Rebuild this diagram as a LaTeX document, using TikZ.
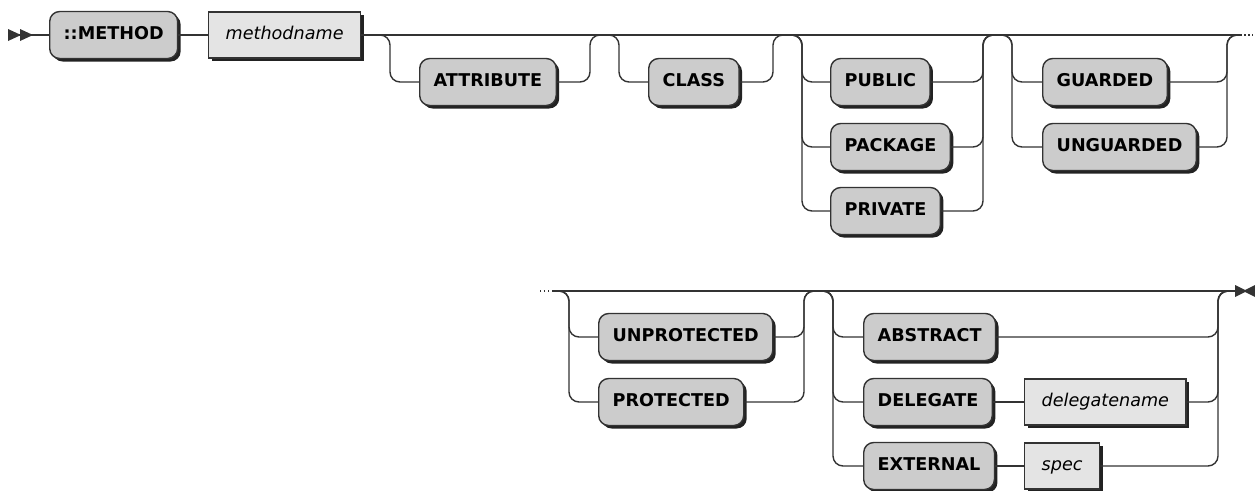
\documentclass[tikz,border=0pt]{standalone}
\usepackage{fontspec}
\setmainfont{DejaVu Sans}
\usetikzlibrary{shadows, positioning}
\definecolor{filocol}{HTML}{333333}
\definecolor{parolacol}{HTML}{CCCCCC}
\definecolor{nomecol}{HTML}{E4E4E4}
\definecolor{ombracol}{HTML}{222222}

\begin{document}
\begin{tikzpicture}[
  x=1pt, y=-1pt,
  filo/.style={draw=filocol, line width=1.4pt},
  ramo/.style={filo, rounded corners=10pt},
  punta/.style={fill=filocol},
  parola/.style={draw=filocol, line width=1.4pt, fill=parolacol, rounded corners=10pt,
    minimum height=47pt, inner xsep=14pt, text height=13pt, text depth=3.5pt,
    font=\fontsize{17.6}{20}\selectfont\bfseries, anchor=west,
    drop shadow={shadow xshift=3pt, shadow yshift=-3pt, opacity=1, fill=ombracol}},
  nome/.style={draw=filocol, line width=1.4pt, fill=nomecol,
    minimum height=46pt, inner xsep=17pt, text height=13pt, text depth=3.5pt,
    font=\fontsize{17.6}{20}\selectfont\itshape, anchor=west,
    drop shadow={shadow xshift=3pt, shadow yshift=-3pt, opacity=1, fill=ombracol}}
]
\useasboundingbox (0,0) rectangle (1255,490);

% Riga superiore
\coordinate (inizio) at (8,35);
\coordinate (fine1) at (1240,35);

\node[parola] (method) at (49,35) {::METHOD};
\node[nome] (mname) at (208,35) {methodname};

\node[parola] (attr) at (419,82) {ATTRIBUTE};
\node[parola] (class) at (648,82) {CLASS};

\node[parola] (public) at (830,82) {PUBLIC};
\node[parola] (package) at (830,147) {PACKAGE};
\node[parola] (private) at (830,211) {PRIVATE};

\node[parola] (guarded) at (1042,82) {GUARDED};
\node[parola] (unguarded) at (1042,147) {UNGUARDED};

% Inizio
\fill[punta] (inizio) ++(0,-6) -- ++(13,6) -- ++(-13,6) -- cycle;
\fill[punta] (inizio) ++(12,-6) -- ++(13,6) -- ++(-13,6) -- cycle;
\draw[filo] (inizio) -- (method.west);
\draw[filo] (method.east) -- (mname.west);
\draw[filo] (mname.east) -- (fine1);
\draw[filo, dash pattern=on 1.5pt off 2.5pt] (fine1) -- ++(13,0);

% ATTRIBUTE
\draw[ramo] (370,35) -| (390,82) -- (attr.west);
\draw[ramo] (attr.east) -| (590,35) -- (610,35);

% CLASS
\draw[ramo] (599,35) -| (619,82) -- (class.west);
\draw[ramo] (class.east) -| (773,35) -- (793,35);

% PUBLIC / PACKAGE / PRIVATE
\draw[ramo] (782,35) -| (802,82) -- (public.west);
\draw[ramo] (782,35) -| (802,147) -- (package.west);
\draw[ramo] (782,35) -| (802,211) -- (private.west);
\draw[ramo] (public.east) -| (983,35) -- (1003,35);
\draw[ramo] (package.east) -| (983,35) -- (1003,35);
\draw[ramo] (private.east) -| (983,35) -- (1003,35);

% GUARDED / UNGUARDED
\draw[ramo] (992,35) -| (1012,82) -- (guarded.west);
\draw[ramo] (992,35) -| (1012,147) -- (unguarded.west);
\draw[ramo] (guarded.east) -| (1227,35) -- (fine1);
\draw[ramo] (unguarded.east) -| (1227,35) -- (fine1);

% Riga inferiore
\coordinate (inizio2) at (553,291);
\coordinate (fine2) at (1235,291);

\node[parola] (unprot) at (598,337) {UNPROTECTED};
\node[parola] (prot) at (598,402) {PROTECTED};

\node[parola] (abstract) at (863,337) {ABSTRACT};
\node[parola] (delegate) at (863,402) {DELEGATE};
\node[parola] (external) at (863,466) {EXTERNAL};
\node[nome] (dname) at (1024,402) {delegatename};
\node[nome] (spec) at (1024,466) {spec};

\draw[filo, dash pattern=on 1.5pt off 2.5pt] (inizio2) -- ++(-16,0);
\draw[filo] (inizio2) -- (fine2);

% UNPROTECTED / PROTECTED
\draw[ramo] (inizio2) -| (569,337) -- (unprot.west);
\draw[ramo] (inizio2) -| (569,402) -- (prot.west);
\draw[ramo] (unprot.east) -| (804,291) -- (824,291);
\draw[ramo] (prot.east) -| (804,291) -- (824,291);

% ABSTRACT / DELEGATE / EXTERNAL
\draw[ramo] (813,291) -| (833,337) -- (abstract.west);
\draw[ramo] (813,291) -| (833,402) -- (delegate.west);
\draw[ramo] (813,291) -| (833,466) -- (external.west);
\draw[filo] (delegate.east) -- (dname.west);
\draw[filo] (external.east) -- (spec.west);
\draw[ramo] (abstract.east) -| (1218,291) -- (fine2);
\draw[ramo] (dname.east) -| (1218,291) -- (fine2);
\draw[ramo] (spec.east) -| (1218,291) -- (fine2);

% Fine
\fill[punta] (fine2) ++(0,-6) -- ++(12,6) -- ++(-12,6) -- cycle;
\fill[punta] (fine2) ++(20,-6) -- ++(-12,6) -- ++(12,6) -- cycle;

\end{tikzpicture}
\end{document}
